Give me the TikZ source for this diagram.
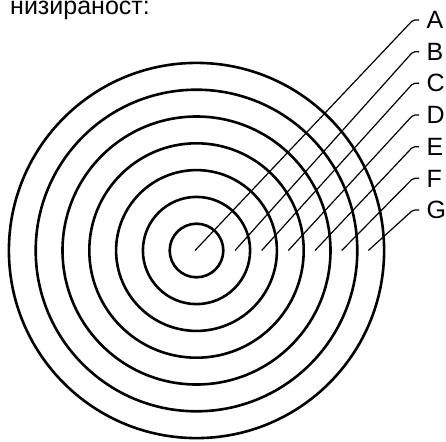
\documentclass[tikz,border=0pt]{standalone}
\usepackage{fontspec}
\setmainfont{Liberation Sans}
\usepackage{tikz}

\begin{document}
\begin{tikzpicture}[x=1pt,y=-1pt,
  ring/.style={line width=2.6pt},
  leader/.style={line width=1.2pt,rounded corners=2pt},
  lbl/.style={anchor=base west,inner sep=0pt,font=\fontsize{25}{30}\selectfont}]
  \useasboundingbox (0,0) rectangle (446,441);
  \node[lbl] (title) at (10,15) {низираност:};
  \coordinate (c) at (196.5,250.5);
  \foreach \r in {1,...,7} \draw[ring] (c) circle[radius=26.8*\r pt];
  \foreach \l/\sx/\ty in {A/195/20,B/235/51.7,C/261.7/83.3,D/288.3/115,E/315/146.7,F/341.7/178.3,G/368.3/210}{
    \coordinate (s\l) at (\sx,250.5);
    \coordinate (t\l) at (419,\ty);
    \node[lbl] (\l) at (426.5,\ty+8.7) {\l};
    \draw[leader] (s\l) -- (413,\ty) -- (t\l);
  }
\end{tikzpicture}
\end{document}
